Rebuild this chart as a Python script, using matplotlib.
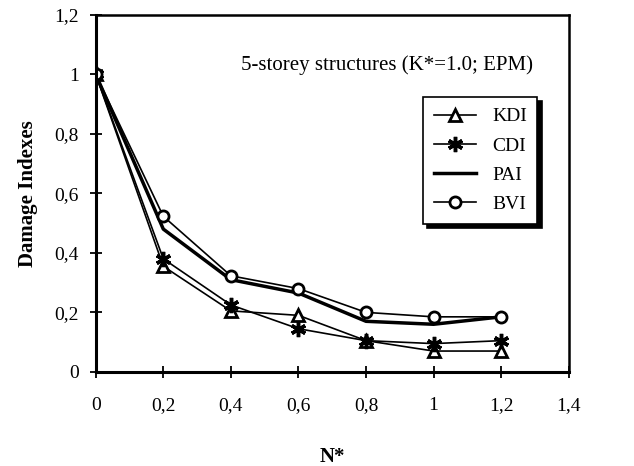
import numpy as np
import matplotlib.pyplot as plt

plt.rcParams['font.family'] = ['Liberation Serif', 'DejaVu Serif']

n_star = [0, 0.2, 0.4, 0.6, 0.8, 1.0, 1.2]
kdi = [1.0, 0.355, 0.205, 0.19, 0.105, 0.07, 0.07]
cdi = [1.0, 0.38, 0.225, 0.145, 0.105, 0.095, 0.105]
pai = [1.0, 0.48, 0.31, 0.265, 0.17, 0.16, 0.185]
bvi = [1.0, 0.523, 0.323, 0.28, 0.2, 0.185, 0.185]

x_ticks = [0, 0.2, 0.4, 0.6, 0.8, 1.0, 1.2, 1.4]
x_labels = ['0', '0,2', '0,4', '0,6', '0,8', '1', '1,2', '1,4']
y_ticks = [0, 0.2, 0.4, 0.6, 0.8, 1.0, 1.2]
y_labels = ['0', '0,2', '0,4', '0,6', '0,8', '1', '1,2']

fig = plt.figure(figsize=(6.34, 4.66), dpi=100)
ax = fig.add_axes([0.151, 0.202, 0.746, 0.766])

ax.plot(n_star, kdi, color='black', lw=1.2, marker='^', ms=8,
        mfc='white', mec='black', mew=2, label='KDI')
ax.plot(n_star, cdi, color='black', lw=1.2, marker=(6, 2, 0), ms=11,
        mec='black', mew=2.5, label='CDI')
ax.plot(n_star, pai, color='black', lw=2.5, label='PAI')
ax.plot(n_star, bvi, color='black', lw=1.2, marker='o', ms=8,
        mfc='white', mec='black', mew=2, label='BVI')

ax.set_xlim(0, 1.4)
ax.set_ylim(0, 1.2)
ax.set_xticks(x_ticks)
ax.set_xticklabels(x_labels)
ax.set_yticks(y_ticks)
ax.set_yticklabels(y_labels)
ax.tick_params(direction='inout', length=8, width=1.3, labelsize=14, pad=8)
ax.tick_params(axis='x', pad=14)

for side in ['left', 'bottom']:
    ax.spines[side].set_linewidth(2.2)
for side in ['top', 'right']:
    ax.spines[side].set_linewidth(1.8)

ax.set_xlabel('N*', fontsize=15, fontweight='bold', labelpad=24)
ax.set_ylabel('Damage Indexes', fontsize=15, fontweight='bold', labelpad=12)

ax.text(0.924, 0.86, '5-storey structures (K*=1.0; EPM)', transform=ax.transAxes,
        ha='right', va='center', fontsize=15)

leg = ax.legend(loc='upper right', bbox_to_anchor=(0.934, 0.77), fontsize=14,
                frameon=True, fancybox=False, edgecolor='black',
                shadow={'color': 'black', 'alpha': 1, 'ox': 3, 'oy': -3},
                handlelength=2.2, labelspacing=0.6, borderpad=0.55,
                borderaxespad=0)
leg.get_frame().set_linewidth(1.2)

fig.savefig('out.png', dpi=100)
